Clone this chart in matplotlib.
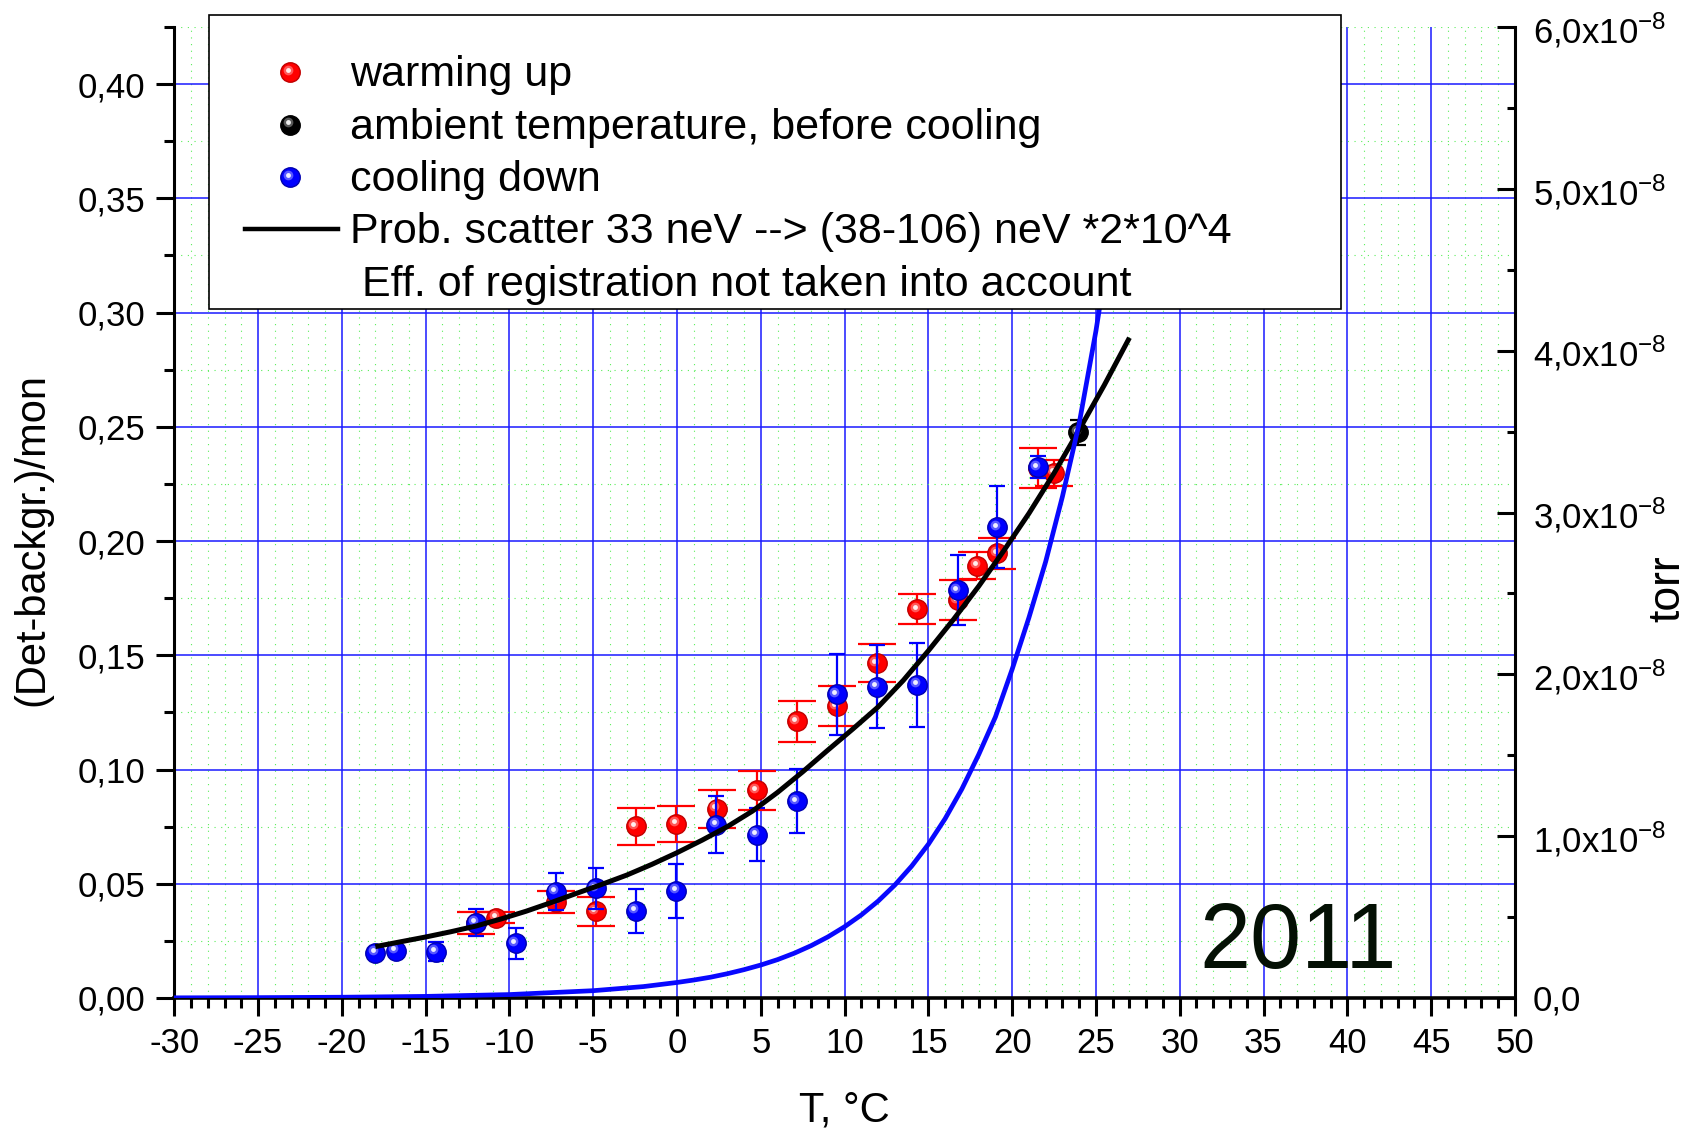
import matplotlib
matplotlib.use('Agg')
import matplotlib.pyplot as plt
import matplotlib.transforms as mtransforms
from matplotlib.ticker import MultipleLocator, FuncFormatter
from matplotlib.patches import Rectangle
from matplotlib.lines import Line2D

plt.rcParams['font.family'] = ['Liberation Sans', 'DejaVu Sans']
plt.rcParams['mathtext.fontset'] = 'custom'
plt.rcParams['mathtext.rm'] = 'Liberation Sans'
plt.rcParams['axes.unicode_minus'] = False

### measured count rates, (Det-backgr.)/mon
# warming up
warm_T = [-12.0, -10.8, -7.2, -4.84, -2.46, -0.04, 2.38, 4.76, 7.14, 9.52,
          11.93, 14.35, 16.75, 17.92, 19.11, 21.53, 22.52]
warm_y = [0.0328, 0.0352, 0.0422, 0.0379, 0.0751, 0.0762, 0.0828, 0.0909, 0.1212, 0.1278,
          0.1465, 0.1702, 0.1742, 0.1892, 0.1946, 0.2320, 0.2298]
warm_err = [0.0048, 0.0023, 0.0048, 0.0064, 0.0080, 0.0079, 0.0082, 0.0084, 0.0090, 0.0088,
            0.0084, 0.0066, 0.0088, 0.0059, 0.0067, 0.0088, 0.0058]

# cooling down
cool_T = [-18.0, -16.8, -14.4, -12.0, -9.62, -7.24, -4.84, -2.46, -0.04, 2.35,
          4.76, 7.14, 9.52, 11.93, 14.35, 16.75, 19.11, 21.53]
cool_y = [0.0199, 0.0207, 0.0203, 0.0330, 0.0240, 0.0466, 0.0481, 0.0382, 0.0469, 0.0759,
          0.0715, 0.0861, 0.1329, 0.1363, 0.1371, 0.1785, 0.2060, 0.2323]
cool_err = [0.0015, 0.0020, 0.0043, 0.0058, 0.0068, 0.0080, 0.0090, 0.0097, 0.0117, 0.0126,
            0.0117, 0.0140, 0.0176, 0.0180, 0.0185, 0.0152, 0.0180, 0.0048]

# ambient temperature, before cooling
amb_T = [23.93]
amb_y = [0.2477]
amb_err = [0.0055]

# scattering probability 33 neV -> (38-106) neV, *2*10^4
prob_T = [-18, -16.5, -15, -13.5, -12, -10.5, -9, -7.5, -6, -4.5, -3, -1.5, 0, 1.5, 3, 4.5,
          6, 7.5, 9, 10.5, 12, 13.5, 15, 16.5, 18, 19.5, 21, 22.5, 24, 25.5, 27]
prob_y = [0.0225, 0.0246, 0.0267, 0.0290, 0.0315, 0.0346, 0.0380, 0.0418, 0.0458, 0.0497,
          0.0538, 0.0585, 0.0636, 0.0691, 0.0750, 0.0818, 0.0900, 0.0990, 0.1085, 0.1178,
          0.1274, 0.1390, 0.1520, 0.1657, 0.1802, 0.1958, 0.2121, 0.2297, 0.2487, 0.2683,
          0.2890]

# pressure, torr (right axis)
p_T = [-30, -25, -20, -15, -10, -5, -2, 0, 1, 2, 3, 4, 5, 6, 7, 8, 9, 10, 11, 12, 13, 14,
       15, 16, 17, 18, 19, 20, 21, 22, 23, 24, 25, 26, 27, 28]
p_torr = [1.0e-11, 2.3e-11, 4.7e-11, 9.9e-11, 2.12e-10, 4.52e-10, 7.06e-10, 9.6e-10,
          1.111e-9, 1.285e-9, 1.500e-9, 1.751e-9, 2.038e-9, 2.372e-9, 2.769e-9, 3.233e-9,
          3.774e-9, 4.405e-9, 5.135e-9, 5.986e-9, 6.983e-9, 8.146e-9, 9.501e-9, 1.1082e-8,
          1.2918e-8, 1.5036e-8, 1.7365e-8, 2.0316e-8, 2.3506e-8, 2.6965e-8, 3.0989e-8,
          3.5507e-8, 4.1225e-8, 4.786e-8, 5.5625e-8, 6.452e-8]

RED = '#ff0000'
BLUE = '#0000ff'
BLACK = '#000000'

fig = plt.figure(figsize=(16.86, 11.28), dpi=100)
ax = fig.add_axes([0.1034, 0.11525, 0.7951, 0.8608])

ax.set_xlim(-30, 50)
ax.set_ylim(0, 0.425)
ax.xaxis.set_major_locator(MultipleLocator(5))
ax.xaxis.set_minor_locator(MultipleLocator(1))
ax.yaxis.set_major_locator(MultipleLocator(0.05))
ax.yaxis.set_minor_locator(MultipleLocator(0.025))
ax.yaxis.set_major_formatter(FuncFormatter(lambda v, p: f"{v:.2f}".replace('.', ',')))

ax.set_axisbelow(True)
ax.grid(which='major', color='#1a1aff', lw=1.1)
ax.grid(which='minor', color='#5aee5a', lw=0.8, linestyle=(0, (1, 5)))

ax.tick_params(which='major', direction='out', length=13, width=2.2, labelsize=25, pad=8)
ax.tick_params(which='minor', direction='out', length=7, width=2.2)
for s in ['top', 'right']:
    ax.spines[s].set_visible(False)
ax.spines['left'].set_linewidth(2.2)
ax.spines['bottom'].set_linewidth(2.6)


def glossy(axis, x, y, color, edge, size, trans=None, z=4):
    # ball markers with a small highlight
    if trans is None:
        trans = axis.transData
    axis.plot(x, y, 'o', ms=size, color=color, mec=edge, mew=1.0, transform=trans, zorder=z)
    hl = mtransforms.offset_copy(trans, fig=fig, x=-2.5, y=2.5, units='dots')
    axis.plot(x, y, 'o', ms=size * 0.5, color='white', alpha=0.35, mew=0, transform=hl, zorder=z + 0.1)
    axis.plot(x, y, 'o', ms=size * 0.25, color='white', alpha=0.9, mew=0, transform=hl, zorder=z + 0.2)


def series(x, y, err, color, edge, capsize, z):
    ax.errorbar(x, y, yerr=err, fmt='none', ecolor=color, elinewidth=1.6,
                capsize=capsize, capthick=1.6, zorder=z)
    glossy(ax, x, y, color, edge, 14, z=z + 0.5)


series(warm_T, warm_y, warm_err, RED, '#c00000', 14, 3)
series(cool_T, cool_y, cool_err, BLUE, '#0000b0', 6, 4)
series(amb_T, amb_y, amb_err, BLACK, BLACK, 6, 5)

ax.plot(prob_T, prob_y, color=BLACK, lw=3.6, zorder=7, solid_capstyle='butt')

ax.text(0.838, 0.031, '2011', transform=ax.transAxes, fontsize=66,
        ha='center', va='baseline', color='#041004')

ax.set_xlabel('T, °C', fontsize=30, va='baseline')
ax.xaxis.set_label_coords(0.5, -0.1277)
ax.set_ylabel('(Det-backgr.)/mon', fontsize=30, va='center')
ax.yaxis.set_label_coords(-0.106, 0.472)

# right axis: pressure
ax2 = ax.twinx()
ax2.set_ylim(0, 6e-8)
ax2.plot(p_T, p_torr, color='#0808ff', lw=3.4, zorder=8)
ax2.yaxis.set_major_locator(MultipleLocator(1e-8))
ax2.yaxis.set_minor_locator(MultipleLocator(0.5e-8))


def torr_fmt(v, p):
    if abs(v) < 1e-12:
        return '0,0'
    return f"{v / 1e-8:.1f}".replace('.', ',') + r'x10$^{\mathregular{-8}}$'


ax2.yaxis.set_major_formatter(FuncFormatter(torr_fmt))
ax2.tick_params(which='major', direction='in', length=13, width=2.2, labelsize=25, pad=13)
ax2.tick_params(which='minor', direction='in', length=6, width=2.2)
for s in ['top', 'left', 'bottom']:
    ax2.spines[s].set_visible(False)
ax2.spines['right'].set_linewidth(2.2)
ax2.set_ylabel('torr', fontsize=32, va='center')
ax2.yaxis.set_label_coords(1.114, 0.422)

# legend box, drawn over both axes
W, H = 1686.0, 1128.0
fig.add_artist(Rectangle((208.6 / W, 1 - 308.6 / H), (1341 - 208.6) / W, (308.6 - 15) / H,
                         transform=fig.transFigure, fc='white', ec='black', lw=1.2, zorder=10))
rows = [72, 124.7, 177.4, 229, 281.7]
labels = ['warming up', 'ambient temperature, before cooling', 'cooling down',
          'Prob. scatter 33 neV --> (38-106) neV *2*10^4',
          ' Eff. of registration not taken into account']
mx = 290 / W
for c, e, r in zip([RED, BLACK, BLUE], ['#c00000', BLACK, '#0000b0'], rows[:3]):
    ln = Line2D([mx], [1 - r / H], transform=fig.transFigure, marker='o', ms=14,
                color=c, mec=e, mew=1.0, linestyle='none', zorder=11)
    fig.add_artist(ln)
    hl = mtransforms.offset_copy(fig.transFigure, fig=fig, x=-2.5, y=2.5, units='dots')
    fig.add_artist(Line2D([mx], [1 - r / H], transform=hl, marker='o', ms=7, color='white',
                          alpha=0.35, mew=0, linestyle='none', zorder=11.1))
    fig.add_artist(Line2D([mx], [1 - r / H], transform=hl, marker='o', ms=3.5, color='white',
                          alpha=0.9, mew=0, linestyle='none', zorder=11.2))
fig.add_artist(Line2D([245 / W, 338 / W], [1 - rows[3] / H] * 2, transform=fig.transFigure,
                      color=BLACK, lw=3.2, zorder=11))
for lab, r in zip(labels, rows):
    fig.text(350.5 / W, 1 - (r + 14) / H, lab, fontsize=31, va='baseline', ha='left', zorder=12)

fig.savefig('out.png', dpi=100)
